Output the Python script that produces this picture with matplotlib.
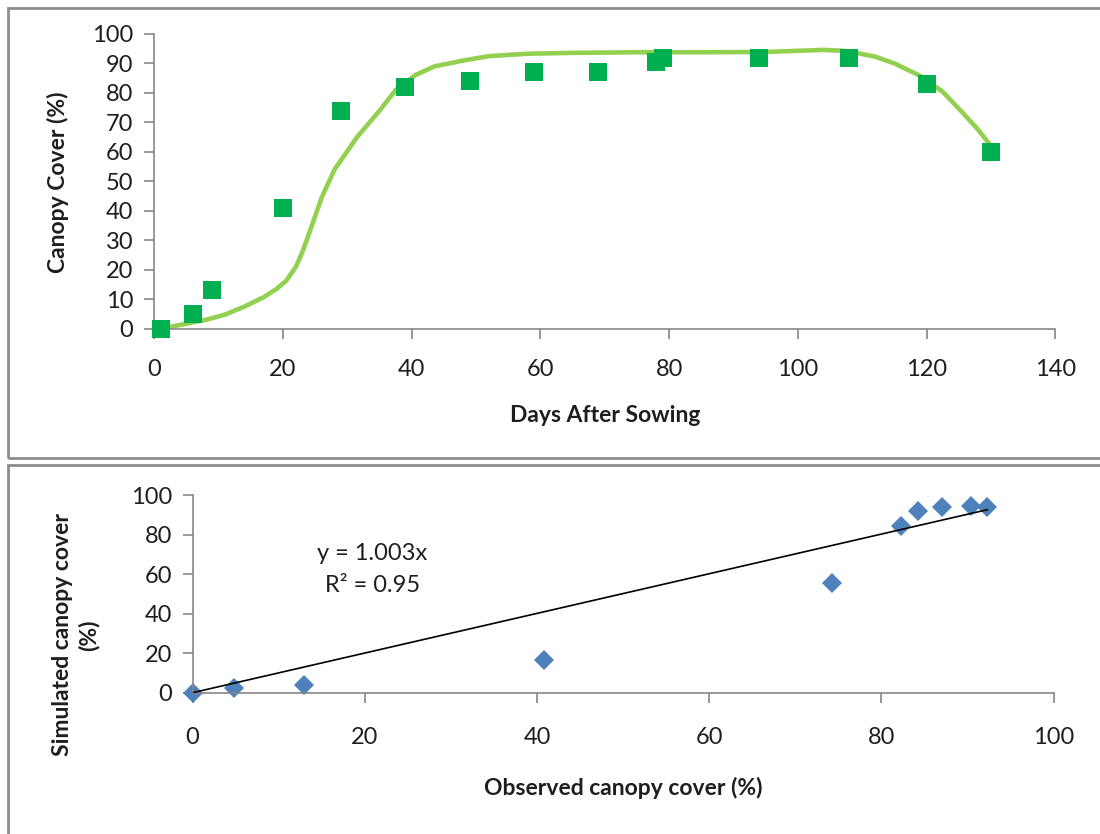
import matplotlib
matplotlib.use("Agg")
import matplotlib.pyplot as plt
from matplotlib.patches import Rectangle

plt.rcParams['font.family'] = ['Lato', 'DejaVu Sans']

# observed canopy cover (green squares)
obs_day = [1, 6, 9, 20, 29, 39, 49, 59, 69, 78, 79, 94, 108, 120, 130]
obs_cc = [0, 5, 13, 41, 74, 82, 84, 87, 87, 90.5, 92, 92, 92, 83, 60]

# simulated canopy cover (smooth light green line)
sim_day = [1, 5, 8, 11, 14, 17, 19, 20.5, 22, 23, 24, 26, 28, 31.5, 35, 37.5,
           40.5, 43.5, 48, 52, 58, 65, 75, 85, 95, 100, 104, 107, 109.5, 112,
           115, 119, 122.5, 125.5, 128, 130]
sim_cc = [0, 1.7, 3.0, 4.8, 7.5, 10.7, 13.5, 16.3, 21, 26, 32, 44.5, 54, 65,
          74, 81, 86, 89, 91, 92.5, 93.3, 93.6, 93.8, 93.8, 93.9, 94.3, 94.6,
          94.3, 93.4, 92.3, 90, 85.8, 80.4, 73.5, 67.5, 62]

# observed vs simulated (blue diamonds)
obs_x = [0, 4.8, 12.9, 40.8, 74.3, 82.3, 84.2, 87.0, 90.4, 92.3]
sim_y = [0, 2.5, 3.9, 16.5, 55.6, 84.3, 91.9, 93.8, 94.4, 93.8]
slope = 1.003
trend_x = [0, 92.3]

W, H = 1100, 834
fig = plt.figure(figsize=(11, 8.34), dpi=100)

def fx(px):
    return px / W

def fy(py):
    return 1 - py / H

# panel frames
fig.patches.append(Rectangle((fx(8), fy(458)), fx(1110) - fx(8), fy(8) - fy(458),
                             transform=fig.transFigure, fill=False,
                             edgecolor='#8c8c8c', linewidth=2))
fig.patches.append(Rectangle((fx(8), fy(850)), fx(1110) - fx(8), fy(465) - fy(850),
                             transform=fig.transFigure, fill=False,
                             edgecolor='#8c8c8c', linewidth=2))

spine_col = '#868686'
txt_col = '#1e1e1e'
tick_fs = 17
lab_fs = 16.5

def style(ax, xpad, ypad):
    for s in ['top', 'right']:
        ax.spines[s].set_visible(False)
    for s in ['left', 'bottom']:
        ax.spines[s].set_color(spine_col)
        ax.spines[s].set_linewidth(1.2)
    ax.tick_params(axis='both', color=spine_col, length=7, width=1.2,
                   labelsize=tick_fs, labelcolor=txt_col)
    ax.tick_params(axis='x', pad=xpad)
    ax.tick_params(axis='y', pad=ypad)

# top chart
ax1 = fig.add_axes([fx(154.3), fy(328.7), fx(1055.4) - fx(154.3), fy(34) - fy(328.7)])
ax1.plot(sim_day, sim_cc, color='#92d050', linewidth=3.3, solid_joinstyle='round',
         solid_capstyle='round', zorder=2)
ax1.plot(obs_day, obs_cc, linestyle='none', marker='s', markersize=12.5,
         color='#00b050', markeredgewidth=0, zorder=3, clip_on=False)
ax1.set_xlim(0, 140)
ax1.set_ylim(0, 100)
ax1.set_xticks(range(0, 141, 20))
ax1.set_yticks(range(0, 101, 10))
style(ax1, 15, 8)
fig.text(fx(58), fy(182), 'Canopy Cover (%)', rotation=90, ha='center', va='center',
         fontsize=lab_fs, fontweight='bold', color=txt_col)
fig.text(fx(605), fy(415), 'Days After Sowing', ha='center', va='center',
         fontsize=lab_fs, fontweight='bold', color=txt_col)

# bottom chart
ax2 = fig.add_axes([fx(192.6), fy(692.7), fx(1053.7) - fx(192.6), fy(495) - fy(692.7)])
ax2.plot(trend_x, [slope * v for v in trend_x], color='black', linewidth=1.2, zorder=3)
ax2.plot(obs_x, sim_y, linestyle='none', marker='D', markersize=10,
         color='#4f81bd', markeredgewidth=0, zorder=2, clip_on=False)
ax2.set_xlim(0, 100)
ax2.set_ylim(0, 100)
ax2.set_xticks(range(0, 101, 20))
ax2.set_yticks(range(0, 101, 20))
style(ax2, 18, 8)
ax2.text(0.209, 0.623, 'y = 1.003x\nR² = 0.95', transform=ax2.transAxes,
         ha='center', va='center', fontsize=tick_fs, color=txt_col, linespacing=1.6)
fig.text(fx(76), fy(635), 'Simulated canopy cover\n(%)', rotation=90, ha='center',
         va='center', fontsize=lab_fs, fontweight='bold', color=txt_col,
         multialignment='center', linespacing=1.25)
fig.text(fx(623), fy(788), 'Observed canopy cover (%)', ha='center', va='center',
         fontsize=lab_fs, fontweight='bold', color=txt_col)

fig.savefig('out.png', dpi=100, facecolor='white')
